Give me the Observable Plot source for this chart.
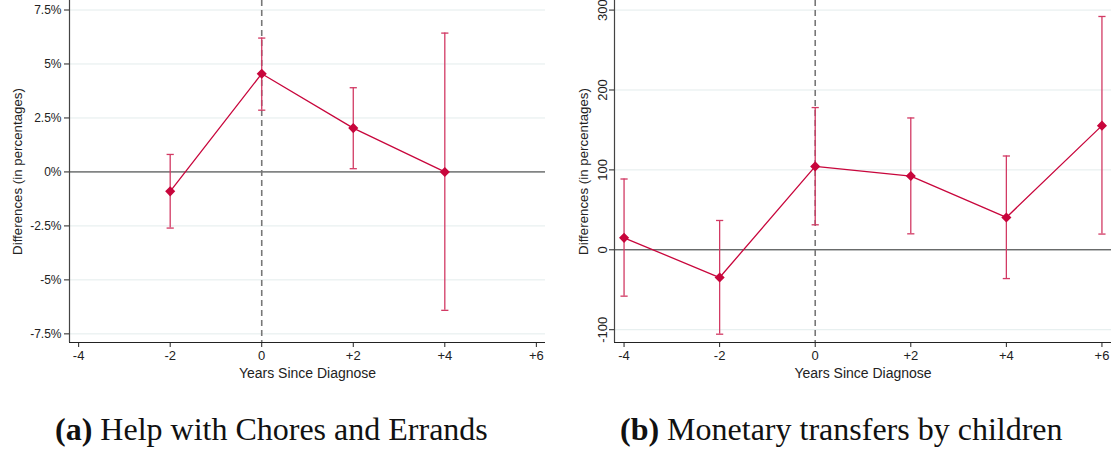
<!DOCTYPE html>
<html><head><meta charset="utf-8">
<script src="https://cdn.jsdelivr.net/npm/d3@7"></script>
<script src="https://cdn.jsdelivr.net/npm/@observablehq/plot@0.6"></script>
<style>
body{margin:0;background:#fff;}
#wrap{position:relative;width:1114px;height:451px;overflow:hidden;}
.panel{position:absolute;top:0;}
.cap{position:absolute;top:413px;font-family:"Liberation Serif","Times New Roman",serif;font-size:32px;line-height:32px;color:#111;white-space:nowrap;}
.cap b{font-weight:bold;}
</style></head>
<body><div id="wrap">
<div id="pa" class="panel" style="left:0"></div>
<div id="pb" class="panel" style="left:557px"></div>
<div class="cap" style="left:55px"><b>(a)</b> Help with Chores and Errands</div>
<div class="cap" style="left:620px"><b>(b)</b> Monetary transfers by children</div>
</div>
<script>
// Panel (a): Help with chores and errands
const yearsA = [-2, 0, 2, 4];
const choresEst = [-0.9, 4.55, 2.03, 0.0];
const choresLo = [-2.6, 2.86, 0.15, -6.41];
const choresHi = [0.81, 6.2, 3.9, 6.43];
const ticksA = [-7.5, -5, -2.5, 0, 2.5, 5, 7.5];

// Panel (b): Monetary transfers by children
const yearsB = [-4, -2, 0, 2, 4, 6];
const transEst = [15, -34.7, 104.4, 92.3, 40.5, 155.4];
const transLo = [-58, -105.6, 31.3, 20, -36, 19.7];
const transHi = [88.6, 36.7, 178, 165, 117.4, 292];
const ticksB = [-100, 0, 100, 200, 300];

const xTicks = [-4, -2, 0, 2, 4, 6];
const xLabel = "Years Since Diagnose";
const yLabel = "Differences (in percentages)";
const xFmt = d => d > 0 ? "+" + d : String(d);
const pctFmt = d => String(d) + "%";

const RED = "#c8063c";
const CI = "#d23a64";
const capSym = {draw(ctx, size){ const r = 3.6; ctx.moveTo(-r,0); ctx.lineTo(r,0); }};

function panel({years, est, lo, hi, yDomain, yTicks, yFmt, width, marginLeft, marginRight, rotateY, labelOffset}) {
  const data = years.map((x,i)=>({x, y:est[i], lo:lo[i], hi:hi[i]}));
  const xDomain = [-4.2, 6.2];
  return Plot.plot({
    width, height: 385,
    marginTop: 0, marginBottom: 43, marginLeft, marginRight,
    style: {fontFamily: "'Liberation Sans', Arial, sans-serif", fontSize: "12px", color: "#222", background: "#fff"},
    x: {domain: xDomain, ticks: xTicks, tickFormat: xFmt},
    y: {domain: yDomain, ticks: yTicks, tickFormat: yFmt},
    marks: [
      Plot.gridY(yTicks, {stroke: "#e3ecec", strokeOpacity: 1, strokeWidth: 1}),
      Plot.ruleY([0], {stroke: "#333", strokeWidth: 1}),
      Plot.ruleX([0], {stroke: "#777", strokeWidth: 1.6, strokeDasharray: "6,4"}),
      Plot.ruleX([xDomain[0]], {stroke: "#444", strokeWidth: 1.2}),
      Plot.ruleY([yDomain[0]], {stroke: "#222", strokeWidth: 1.2}),
      Plot.axisX({ticks: xTicks, tickFormat: xFmt, tickSize: 5, tickPadding: 3, fontSize: 13, label: null}),
      Plot.axisY({ticks: yTicks, tickFormat: yFmt, tickSize: 5, tickPadding: 3, tickRotate: rotateY ? -90 : 0,
        fontSize: rotateY ? 13 : 12, label: null}),
      Plot.text([xLabel], {frameAnchor: "bottom", textAnchor: "middle", lineAnchor: "middle", dy: 31.5, fontSize: 14, fill: "#222"}),
      Plot.text([yLabel], {frameAnchor: "left", textAnchor: "middle", lineAnchor: "middle", dx: -labelOffset, rotate: -90, fontSize: 13.3, fill: "#222"}),
      Plot.ruleX(data, {x: "x", y1: "lo", y2: "hi", stroke: CI, strokeWidth: 1.3}),
      Plot.dot(data, {x: "x", y: "lo", symbol: capSym, stroke: CI, strokeWidth: 1.3, r: 4}),
      Plot.dot(data, {x: "x", y: "hi", symbol: capSym, stroke: CI, strokeWidth: 1.3, r: 4}),
      Plot.line(data, {x: "x", y: "y", stroke: RED, strokeWidth: 1.3}),
      Plot.dot(data, {x: "x", y: "y", symbol: "diamond2", fill: RED, stroke: RED, r: 3.6})
    ]
  });
}

document.getElementById("pa").append(panel({
  years: yearsA, est: choresEst, lo: choresLo, hi: choresHi,
  yDomain: [-7.9, 7.94], yTicks: ticksA, yFmt: pctFmt,
  width: 556, marginLeft: 69, marginRight: 11, rotateY: false, labelOffset: 52
}));
document.getElementById("pb").append(panel({
  years: yearsB, est: transEst, lo: transLo, hi: transHi,
  yDomain: [-116, 312], yTicks: ticksB, yFmt: d => String(d),
  width: 557, marginLeft: 57, marginRight: 3, rotateY: true, labelOffset: 31
}));
</script>
</body></html>
